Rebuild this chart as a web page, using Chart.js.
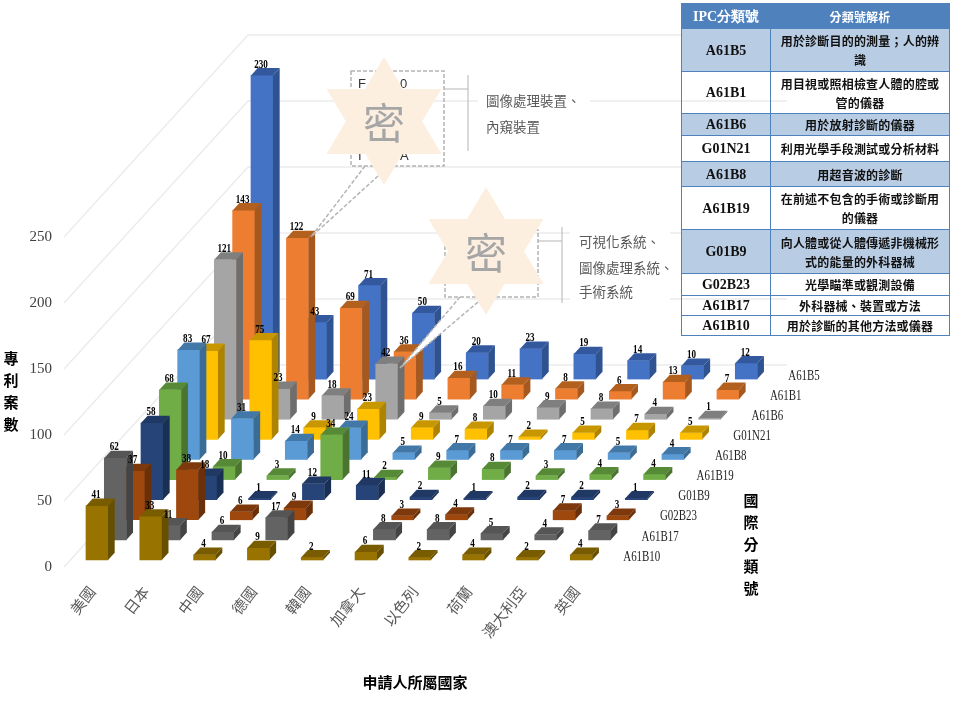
<!DOCTYPE html>
<html>
<head>
<meta charset="utf-8">
<title>IPC</title>
<script src="https://cdn.jsdelivr.net/npm/chart.js@4/dist/chart.umd.js"></script>
<style>
    html, body { margin: 0; padding: 0; background: #fff; overflow: hidden; }
    #wrap { position: relative; width: 959px; height: 702px; }
    canvas { position: absolute; left: 0; top: 0; }
    #ipc-table {
        position: absolute; left: 681px; top: 3px; width: 269px; height: 332px;
        border-collapse: collapse; table-layout: fixed;
        font-family: "Noto Sans CJK TC", sans-serif; font-weight: 700; color: #111;
        font-size: 12px; line-height: 19px; letter-spacing: 0.2px; text-align: center;
    }
    #ipc-table td, #ipc-table th { border: 1px solid #4f81bd; padding: 0 8px; }
    #ipc-table th { background: #4f81bd; color: #fff; font-size: 12px; }
    #ipc-table .code { font-family: "Liberation Serif", serif; font-size: 14px; padding: 0 2px; letter-spacing: 0; }
    #ipc-table .band { background: #b8cce4; }
</style>
</head>
<body>
<div id="wrap">
    <canvas id="chart" width="959" height="702"></canvas>
    <table id="ipc-table"></table>
</div>
<script>
const countries = ['美國', '日本', '中國', '德國', '韓國', '加拿大', '以色列', '荷蘭', '澳大利亞', '英國'];
const ipcCodes = ['A61B5', 'A61B1', 'A61B6', 'G01N21', 'A61B8', 'A61B19', 'G01B9', 'G02B23', 'A61B17', 'A61B10'];

// one list per IPC code, back row first
const a61b5 = [230, 43, 71, 50, 20, 23, 19, 14, 10, 12];
const a61b1 = [143, 122, 69, 36, 16, 11, 8, 6, 13, 7];
const a61b6 = [121, 23, 18, 42, 5, 10, 9, 8, 4, 1];
const g01n21 = [67, 75, 9, 23, 9, 8, 2, 5, 7, 5];
const a61b8 = [83, 31, 14, 24, 5, 7, 7, 7, 5, 4];
const a61b19 = [68, 10, 3, 34, 2, 9, 8, 3, 4, 4];
const g01b9 = [58, 18, 1, 12, 11, 2, 1, 2, 2, 1];
const g02b23 = [37, 38, 6, 9, 0, 3, 4, 0, 7, 3];
const a61b17 = [62, 11, 6, 17, 0, 8, 8, 5, 4, 7];
const a61b10 = [41, 33, 4, 9, 2, 6, 2, 4, 2, 4];
const seriesValues = [a61b5, a61b1, a61b6, g01n21, a61b8, a61b19, g01b9, g02b23, a61b17, a61b10];

const yTickValues = [0, 50, 100, 150, 200, 250];
const xTickValues = [0, 1, 2, 3, 4, 5, 6, 7, 8, 9];

const ipcMeanings = [
    '用於診斷目的的測量；人的辨識',
    '用目視或照相檢查人體的腔或管的儀器',
    '用於放射診斷的儀器',
    '利用光學手段測試或分析材料',
    '用超音波的診斷',
    '在前述不包含的手術或診斷用的儀器',
    '向人體或從人體傳遞非機械形式的能量的外科器械',
    '光學瞄準或觀測設備',
    '外科器械、裝置或方法',
    '用於診斷的其他方法或儀器'
];
const tableRowHeights = [43, 42, 22, 26, 25, 43, 44, 22, 20, 20];

const frontColors = ['#4472c4', '#ed7d31', '#a5a5a5', '#ffc000', '#5b9bd5', '#70ad47', '#264478', '#9e480e', '#636363', '#997300'];
const topColors = ['#33589e', '#b3601f', '#7f7f7f', '#c89700', '#4278a8', '#568a36', '#1f3864', '#7d390b', '#555555', '#7a5c00'];
const sideColors = ['#2e5390', '#a5591f', '#6e6e6e', '#ad8300', '#3b6c95', '#4b7430', '#1a2f54', '#6a300a', '#444444', '#665000'];

// oblique projection: every row moves right and up by a fixed amount in scale units
const rowShiftX = 0.3407;
const rowRiseY = 15.23;
const floorLift = 5.3;
const wallShiftX = 3.42;
const wallRiseY = 153;
const wallEndX = 12.825;
const depthX = 6.7;
const depthY = 7.3;

const lastRow = seriesValues.length - 1;

function rowBase(row) {
    return floorLift + (lastRow - row) * rowRiseY;
}

function rowOffset(row) {
    return (lastRow - row) * rowShiftX;
}

function narrowText(ctx, text, x, y, squeeze) {
    ctx.fillText(text, x, y, ctx.measureText(text).width * squeeze);
}

const depthPlugin = {
    id: 'depth',
    beforeDatasetsDraw(chart) {
        // floor and wall gridlines
        const { ctx, scales: { x, y } } = chart;
        ctx.save();
        ctx.strokeStyle = '#ececec';
        ctx.lineWidth = 1.5;
        yTickValues.forEach(v => {
            ctx.beginPath();
            ctx.moveTo(x.left, y.getPixelForValue(v));
            ctx.lineTo(x.getPixelForValue(x.min + wallShiftX), y.getPixelForValue(v + wallRiseY));
            ctx.lineTo(x.getPixelForValue(wallEndX), y.getPixelForValue(v + wallRiseY));
            ctx.stroke();
        });
        ctx.restore();
    },
    afterDatasetDraw(chart, args) {
        const ctx = chart.ctx;
        const row = args.index;
        args.meta.data.forEach((bar, i) => {
            if (!seriesValues[row][i]) return;
            const left = bar.x - bar.width / 2;
            const right = bar.x + bar.width / 2;
            ctx.fillStyle = topColors[row];
            ctx.beginPath();
            ctx.moveTo(left, bar.y);
            ctx.lineTo(left + depthX, bar.y - depthY);
            ctx.lineTo(right + depthX, bar.y - depthY);
            ctx.lineTo(right, bar.y);
            ctx.closePath();
            ctx.fill();
            ctx.fillStyle = sideColors[row];
            ctx.beginPath();
            ctx.moveTo(right, bar.y);
            ctx.lineTo(right + depthX, bar.y - depthY);
            ctx.lineTo(right + depthX, bar.base - depthY);
            ctx.lineTo(right, bar.base);
            ctx.closePath();
            ctx.fill();
        });
    },
    afterDatasetsDraw(chart) {
        const { ctx, scales: { x, y } } = chart;
        drawCallouts(ctx);

        // value labels
        ctx.save();
        ctx.fillStyle = '#000';
        ctx.font = 'bold 13px "Liberation Serif"';
        ctx.textAlign = 'center';
        ctx.textBaseline = 'middle';
        seriesValues.forEach((values, row) => {
            const meta = chart.getDatasetMeta(row);
            values.forEach((v, i) => {
                if (!v) return;
                const bar = meta.data[i];
                narrowText(ctx, String(v), bar.x - 1, bar.y - 11, 0.7);
            });
        });

        // row names on the right of the floor
        ctx.fillStyle = '#222';
        ctx.font = '14px "Liberation Serif"';
        ctx.textAlign = 'left';
        ipcCodes.forEach((code, row) => {
            const px = x.getPixelForValue(9 + rowOffset(row)) + 42;
            narrowText(ctx, code, px, y.getPixelForValue(rowBase(row)) - 3, 0.78);
        });

        // axis titles
        ctx.fillStyle = '#000';
        ctx.font = 'bold 15px "Noto Sans CJK TC"';
        ctx.textAlign = 'center';
        ctx.fillText('申請人所屬國家', 415, 682);
        Array.from('專利案數').forEach((c, i) => ctx.fillText(c, 11, 358 + i * 22));
        Array.from('國際分類號').forEach((c, i) => ctx.fillText(c, 751, 500 + i * 22));
        ctx.restore();
    }
};

function drawStar(ctx, cx, cy) {
    ctx.fillStyle = '#fcefe0';
    ctx.beginPath();
    ctx.moveTo(cx, cy - 64);
    ctx.lineTo(cx + 57.5, cy + 33);
    ctx.lineTo(cx - 57.5, cy + 33);
    ctx.closePath();
    ctx.fill();
    ctx.beginPath();
    ctx.moveTo(cx, cy + 64);
    ctx.lineTo(cx + 57.5, cy - 32);
    ctx.lineTo(cx - 57.5, cy - 32);
    ctx.closePath();
    ctx.fill();
    ctx.fillStyle = '#a6a6a6';
    ctx.font = '42px "Noto Sans CJK TC"';
    ctx.textAlign = 'center';
    ctx.textBaseline = 'middle';
    ctx.fillText('密', cx, cy + 2);
}

function dashedLine(ctx, x1, y1, x2, y2) {
    ctx.beginPath();
    ctx.moveTo(x1, y1);
    ctx.lineTo(x2, y2);
    ctx.stroke();
}

function drawCallouts(ctx) {
    ctx.save();

    // white gaps behind the notes so the wall lines stop there
    ctx.fillStyle = '#fff';
    ctx.fillRect(478, 90, 112, 48);
    ctx.fillRect(570, 228, 100, 76);

    // wedges from the boxes down to the bars
    ctx.beginPath();
    ctx.moveTo(365, 166);
    ctx.lineTo(378, 176);
    ctx.lineTo(311, 237);
    ctx.closePath();
    ctx.fill();
    ctx.beginPath();
    ctx.moveTo(460, 297);
    ctx.lineTo(478, 302);
    ctx.lineTo(400, 368);
    ctx.closePath();
    ctx.fill();

    ctx.strokeStyle = '#b4b4b4';
    ctx.lineWidth = 1.5;
    ctx.setLineDash([4, 2]);
    dashedLine(ctx, 365, 166, 311, 237);
    dashedLine(ctx, 378, 176, 311, 237);
    dashedLine(ctx, 460, 297, 400, 368);
    dashedLine(ctx, 478, 302, 400, 368);
    ctx.strokeRect(351, 71, 93, 95);
    ctx.strokeRect(445, 230, 93, 67);
    ctx.setLineDash([]);

    // brackets
    ctx.lineWidth = 1;
    ctx.beginPath();
    ctx.moveTo(444, 89);
    ctx.lineTo(468, 89);
    ctx.moveTo(468, 75);
    ctx.lineTo(468, 151);
    ctx.moveTo(538, 241);
    ctx.lineTo(562, 241);
    ctx.moveTo(562, 227);
    ctx.lineTo(562, 303);
    ctx.stroke();

    // what still shows of the text under the first star
    ctx.fillStyle = '#333';
    ctx.font = '13px "Liberation Sans"';
    ctx.textAlign = 'left';
    ctx.textBaseline = 'middle';
    ctx.fillText('F', 358, 84);
    ctx.fillText('0', 400, 84);
    ctx.fillText('I', 358, 156);
    ctx.fillText('A', 400, 156);

    drawStar(ctx, 384, 121);
    drawStar(ctx, 486, 251);

    ctx.fillStyle = '#595959';
    ctx.font = '13.5px "Noto Sans CJK TC"';
    ctx.textAlign = 'left';
    ctx.textBaseline = 'middle';
    ctx.fillText('圖像處理裝置、', 486, 101);
    ctx.fillText('內窺裝置', 486, 127);
    ctx.fillText('可視化系統、', 579, 242);
    ctx.fillText('圖像處理系統、', 579, 268);
    ctx.fillText('手術系統', 579, 292);
    ctx.restore();
}

function buildTable() {
    let html = '<tr style="height:25px"><th class="code" style="width:84px;color:#fff">IPC分類號</th><th>分類號解析</th></tr>';
    ipcCodes.forEach((code, i) => {
        const band = [0, 2, 4, 6].includes(i) ? ' class="band"' : '';
        html += `<tr${band} style="height:${tableRowHeights[i]}px">
            <td class="code">${code}</td><td>${ipcMeanings[i]}</td></tr>`;
    });
    document.getElementById('ipc-table').innerHTML = html;
}

function setupChart() {
    const ctx = document.getElementById('chart').getContext('2d');
    return new Chart(ctx, {
        type: 'bar',
        plugins: [depthPlugin],
        data: {
            datasets: seriesValues.map((values, row) => ({
                label: ipcCodes[row],
                data: values.map((v, i) => ({ x: i + rowOffset(row), y: v ? [rowBase(row), rowBase(row) + v] : null })),
                backgroundColor: frontColors[row],
                borderWidth: 0,
                barThickness: 22,
                grouped: false,
                clip: false,
                order: -row
            }))
        },
        options: {
            responsive: false,
            animation: false,
            layout: { padding: 0 },
            plugins: { legend: { display: false }, tooltip: { enabled: false } },
            scales: {
                x: {
                    type: 'linear',
                    offset: false,
                    min: -0.613,
                    max: 16.02,
                    grid: { display: false },
                    border: { display: false },
                    afterBuildTicks(scale) { scale.ticks = xTickValues.map(v => ({ value: v })); },
                    afterFit(scale) { scale.height = 135; scale.paddingLeft = 0; scale.paddingRight = 0; },
                    ticks: {
                        autoSkip: false,
                        maxRotation: 52,
                        minRotation: 52,
                        padding: 8,
                        labelOffset: -5,
                        color: '#595959',
                        font: { family: '"Noto Sans CJK TC"', size: 15 },
                        callback: v => countries[v]
                    }
                },
                y: {
                    type: 'linear',
                    min: 0,
                    max: 429.5,
                    grid: { display: false },
                    border: { display: false },
                    afterBuildTicks(scale) { scale.ticks = yTickValues.map(v => ({ value: v })); },
                    afterFit(scale) { scale.width = 64; scale.paddingTop = 0; scale.paddingBottom = 0; },
                    ticks: {
                        padding: 4,
                        color: '#404040',
                        font: { family: '"Liberation Serif"', size: 15 }
                    }
                }
            }
        }
    });
}

buildTable();
const patentChart = setupChart();
</script>
</body>
</html>
